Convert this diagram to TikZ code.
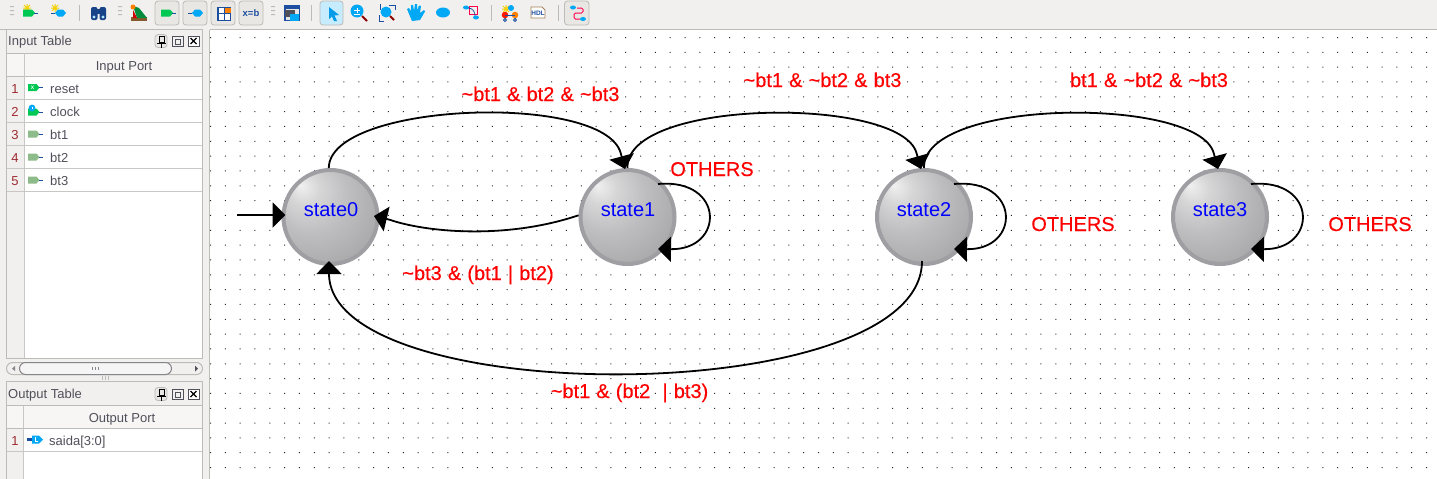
\documentclass[tikz,border=0pt]{standalone}
\usepackage{fontspec}
\setmainfont{Liberation Sans}
\newfontfamily\guardfont[FakeBold=0.35,WordSpace=1.1]{Liberation Sans}
\usetikzlibrary{arrows.meta,calc}
\definecolor{panelbg}{HTML}{F1F0EE}
\definecolor{frameln}{HTML}{BDBBB8}
\definecolor{rowln}{HTML}{C9C7C4}
\definecolor{uitext}{HTML}{50505A}
\definecolor{ringc}{HTML}{9E9EA3}
\definecolor{portg}{HTML}{00C853}
\definecolor{portb}{HTML}{00A8F5}
\definecolor{darkb}{HTML}{1D4FA0}
\definecolor{sung}{HTML}{F4D000}
\definecolor{dullg}{HTML}{8DBB8A}
\definecolor{btnbg}{HTML}{E9E7E4}
\definecolor{sa}{HTML}{F0F0F0}
\definecolor{sb}{HTML}{D6D6D7}
\definecolor{sc}{HTML}{BEBEC0}
\definecolor{sd}{HTML}{A9A9AC}
\definecolor{se}{HTML}{9E9EA3}
\pgfdeclareradialshading{statefill}{\pgfpoint{-16bp}{17bp}}{%
 color(0bp)=(sa); color(8bp)=(sb); color(20bp)=(sc); color(35bp)=(sd); color(46bp)=(se); color(60bp)=(se)}
\tikzset{
 x=1pt,y=-1pt,
 statenode/.style={circle,draw=ringc,line width=4pt,minimum size=94pt,inner sep=0pt,shading=statefill,shade},
 statetext/.style={anchor=base,text=blue,font=\fontsize{20}{24}\selectfont,inner sep=0pt},
 guard/.style={anchor=base,text=red,font=\guardfont\fontsize{20}{24}\selectfont,inner sep=0pt},
 wire/.style={draw=black,line width=1.8pt,-{Triangle[length=13pt,width=25pt]}},
 uilabel/.style={anchor=base west,text=uitext,font=\fontsize{13}{15}\selectfont,inner sep=0pt},
 uicenter/.style={anchor=base,text=uitext,font=\fontsize{13}{15}\selectfont,inner sep=0pt},
 btn/.style={draw=frameln,fill=btnbg,rounded corners=3pt,line width=.8pt},
}
\newcommand{\portglyph}[3]{% x, y, colour : pentagon with stub on the right
 \fill[#3] (#1,#2-3.5) -- (#1+8.5,#2-3.5) -- (#1+11.5,#2) -- (#1+8.5,#2+3.5) -- (#1,#2+3.5) -- cycle;
 \draw[darkb,line width=.8pt] (#1+11,#2) -- (#1+15,#2);}
\newcommand{\tbport}[3]{% toolbar port, stub right
 \fill[#3] (#1-6,#2-3.5) -- (#1+3,#2-3.5) -- (#1+6,#2) -- (#1+3,#2+3.5) -- (#1-6,#2+3.5) -- cycle;
 \draw[darkb,line width=.8pt] (#1+5,#2) -- (#1+9,#2);}
\newcommand{\tbportl}[3]{% toolbar port, stub left
 \fill[#3] (#1-3,#2) -- (#1,#2-3.5) -- (#1+5,#2-3.5) -- (#1+8,#2) -- (#1+5,#2+3.5) -- (#1,#2+3.5) -- cycle;
 \draw[darkb,line width=.8pt] (#1-7,#2) -- (#1-3,#2);}
\newcommand{\grip}[2]{\fill[frameln] (#1-2,#2-5) rectangle (#1+2,#2-4) (#1-2,#2-1) rectangle (#1+2,#2) (#1-2,#2+3) rectangle (#1+2,#2+4);}
\newcommand{\sun}[2]{\draw[sung,line width=1pt] (#1-4,#2) -- (#1+4,#2) (#1,#2-4) -- (#1,#2+4) (#1-3,#2-3) -- (#1+3,#2+3) (#1-3,#2+3) -- (#1+3,#2-3);}
\newcommand{\dockbtns}[1]{%
 \draw[btn] (155,#1-6.5) rectangle (167,#1+6.5);
 \draw[black,line width=.8pt] (159,#1-5) rectangle (164,#1+1) (157,#1+2) -- (166,#1+2) (161.5,#1+2) -- (161.5,#1+7);
 \draw[uitext,line width=.7pt] (172,#1-5) rectangle (183,#1+5) (175,#1-2) rectangle (180,#1+3);
 \draw[uitext,line width=.7pt,fill=white] (188,#1-5) rectangle (199,#1+5);
 \draw[black,line width=1.1pt] (190.5,#1-3) -- (196.5,#1+3) (190.5,#1+3) -- (196.5,#1-3);}
\begin{document}
\begin{tikzpicture}
\useasboundingbox (0,0) rectangle (1437,479);
% backgrounds
\fill[panelbg] (0,0) rectangle (1437,479);
\fill[white] (210,30) rectangle (1437,479);
\draw[frameln,line width=1pt] (0,29.5) -- (6,29.5) (209.5,29.5) -- (1437,29.5) (209.5,29.5) -- (209.5,479);
% grid dots
\fill[black!85] \foreach \i in {0,...,82}{\foreach \j in {0,...,29}{
  (210+14.83*\i,37+14.83*\j) rectangle (211+14.83*\i,38+14.83*\j)}};
% toolbar
\grip{12}{11}
\sun{27}{8}\tbport{29}{13}{portg}
\sun{55}{8}\tbportl{58}{13}{portb}
\draw[frameln,line width=.8pt] (79,5) -- (79,21);
% binoculars
\fill[darkb!85!black,rounded corners=2pt] (91,7) rectangle (97.5,20) (99.5,7) rectangle (106,20);
\fill[darkb!85!black] (96,9) rectangle (101,14);
\fill[white!70!portb] (94,17) circle (1.7) (103,17) circle (1.7);
\grip{120}{11}
% bird
\fill[brown!70!black] (131,17) rectangle (147,21);
\fill[portg!70!black] (133,6) -- (139,8) -- (147,18) -- (137,18) -- cycle;
\fill[orange] (133,7) circle (2.5);
\fill[red!80!black] (133,10) -- (137,18) -- (133,18) -- cycle;
% buttons
\draw[btn] (155,1) rectangle (179,25);
\tbport{167}{13}{portg}
\draw[btn] (183,1) rectangle (207,25);
\tbportl{195}{13}{portb}
\draw[btn] (211,1) rectangle (235,25);
\draw[darkb,line width=1.2pt,fill=white] (218,7.5) rectangle (230.5,20.5);
\fill[orange] (224.5,7.5) rectangle (230.5,13);
\draw[darkb,line width=1pt] (218,13) -- (230.5,13) (224.5,7.5) -- (224.5,20.5);
\draw[btn] (239,1) rectangle (263,25);
\node[font=\fontsize{9.5}{10}\selectfont\bfseries,text=darkb,inner sep=0pt] (xb) at (251,13.5) {x=b};
\grip{273}{11}
\fill[darkb] (284,5) rectangle (300,21);
\fill[white!80!gray] (285.5,9) rectangle (298.5,19.5);
\fill[uitext] (285,10) rectangle (295,17);
\fill[portb] (290,14) rectangle (299,21);
\draw[frameln,line width=.8pt] (311,5) -- (311,21);
\draw[draw=frameln,fill=portb!22,rounded corners=3pt,line width=.8pt] (320,1) rectangle (343,25);
\fill[portb!85!darkb] (329,7) -- (339,15) -- (334.5,15.5) -- (337,21) -- (334,21) -- (332,16.5) -- (329,19) -- cycle;
% zoom in
\fill[portb] (357,11) circle (6.5);
\draw[white,line width=1pt] (354,10) -- (360,10) (357,7.5) -- (357,12.5) (354,14) -- (360,14);
\draw[red!55!black,line width=2pt] (362,16) -- (367,21);
% zoom fit
\fill[portb] (386,12) circle (5.5);
\draw[red!55!black,line width=2pt] (390,16) -- (394,20);
\draw[darkb,line width=.9pt] (380,10) -- (380,4.5) -- (381,4.5) (389,5) -- (395,5) -- (395,10) (379,15) -- (379,21) -- (384,21);
% hand
\fill[portb] (409,14) -- (407,9) -- (409,8) -- (411,11) -- (411,5) -- (413,5) -- (414,11) -- (415,4) -- (417,4) -- (417,11) -- (419,5.5) -- (421,6) -- (420,13) -- (424,10) -- (425,11.5) -- (420,20) -- (412,21) -- cycle;
% ellipse
\fill[portb] (443,12.5) ellipse [x radius=7,y radius=5];
% transition
\fill[portb] (466,7.5) ellipse [x radius=3,y radius=2];
\fill[portb] (476,17.5) ellipse [x radius=3,y radius=2];
\draw[red!70!magenta,line width=1pt] (469,6) rectangle (477.5,14.5);
\draw[darkb,line width=.7pt] (468,8) .. controls (473,8) and (475,12) .. (475,16);
\draw[frameln,line width=.8pt] (491,5) -- (491,21);
% tree icon
\sun{506}{9}
\fill[red!80!orange] (505,15) circle (3.3);
\fill[orange] (515,15) circle (3.3);
\fill[portb] (511,8) circle (3);
\draw[darkb,line width=.8pt] (505,18) -- (505,19) (515,18) -- (515,19) (505,15) -- (515,15);
\draw[darkb,line width=.8pt] (505,20) circle (1.5) (515,20) circle (1.5);
% HDL
\draw[brown!60!gray,line width=.9pt,fill=white] (531,7) -- (542,7) -- (545,10) -- (545,18) -- (531,18) -- cycle;
\node[font=\fontsize{6.5}{7}\selectfont\bfseries,text=darkb,inner sep=0pt] (hdl) at (538,13) {HDL};
\draw[frameln,line width=.8pt] (558,5) -- (558,21);
\draw[btn] (564.5,1) rectangle (589,25);
\draw[red!70!magenta,line width=1pt,rounded corners=1.5pt] (577,8) -- (583,8) -- (583,13) -- (574,13) -- (574,19) -- (580,19);
\fill[portb] (573,7.5) ellipse [x radius=3,y radius=2];
\fill[portb] (583,19) ellipse [x radius=3,y radius=2];
% input table dock
\draw[frameln,line width=1pt,fill=panelbg] (6.5,29.5) rectangle (202.5,358.5);
\node[uilabel] (inTitle) at (8,45) {Input Table};
\dockbtns{41}
\fill[white] (24,53) rectangle (202,358);
\fill[panelbg!60!white] (7,53) rectangle (202,76);
\draw[frameln,line width=1pt] (7,53) -- (202,53) (7,76) -- (202,76);
\draw[rowln,line width=.8pt] (24,53) -- (24,358);
\draw[rowln,line width=1pt] (7,99.5) -- (202,99.5) (7,122.5) -- (202,122.5) (7,145.5) -- (202,145.5) (7,168.5) -- (202,168.5) (7,191.5) -- (202,191.5);
\node[uicenter] (inHead) at (124,70) {Input Port};
\foreach \r/\y/\t in {1/93/reset,2/116/clock,3/139/bt1,4/162/bt2,5/185/bt3}{
 \node[uicenter,text=red!45!uitext] (inN\r) at (15,\y) {\r};
 \node[uilabel] (inT\r) at (50,\y) {\t};
}
\portglyph{28}{87.5}{portg}
\node[text=white,font=\fontsize{5}{5}\selectfont\bfseries,inner sep=0pt] (xglyph) at (32.5,87.5) {X};
\portglyph{28}{112}{portg}
\fill[portb] (32,108) circle (3.4);
\fill[white] (31.7,106.5) rectangle (32.5,108.5);
\portglyph{28}{134}{dullg}\portglyph{28}{157}{dullg}\portglyph{28}{180}{dullg}
% scroll bar
\draw[frameln,line width=1pt,fill=panelbg,rounded corners=6pt] (6.5,362.5) rectangle (202.5,374.5);
\draw[uitext!70,line width=1pt,fill=white!96!black,rounded corners=6pt] (19.5,362.5) rectangle (171.5,374.5);
\fill[uitext!70] (12,368.5) -- (15,366) -- (15,371) -- cycle;
\fill[uitext] (198,368.5) -- (195,365.5) -- (195,371.5) -- cycle;
\draw[uitext!70,line width=.6pt] (92,366.5) -- (92,370) (95,366.5) -- (95,370) (98,366.5) -- (98,370);
\draw[frameln,line width=.6pt] (102,376) -- (102,380) (105,376) -- (105,380) (108,376) -- (108,380);
% output table dock
\draw[frameln,line width=1pt,fill=panelbg] (6.5,381.5) rectangle (202.5,485);
\node[uilabel] (outTitle) at (8,398) {Output Table};
\dockbtns{394}
\fill[white] (24,405) rectangle (202,479);
\fill[panelbg!60!white] (7,405.5) rectangle (202,428.5);
\draw[frameln,line width=1pt] (7,405.5) -- (202,405.5) (7,428.5) -- (202,428.5);
\draw[rowln,line width=.8pt] (23.5,405.5) -- (23.5,479);
\draw[rowln,line width=1pt] (7,451.5) -- (202,451.5);
\node[uicenter] (outHead) at (122,422) {Output Port};
\node[uicenter,text=red!45!uitext] (outN1) at (15,445) {1};
\node[uilabel] (outT1) at (49,445) {saida[3:0]};
\fill[darkb] (27,438) rectangle (32,441);
\fill[portb] (32,435.5) -- (39,435.5) -- (43,439.5) -- (39,443.5) -- (32,443.5) -- cycle;
\draw[white,line width=.9pt] (35,437) -- (35,441.5) -- (38,441.5);
% states
\node[statenode] (s0) at (330.5,217) {};
\node[statenode] (s1) at (627.5,217) {};
\node[statenode] (s2) at (924,217) {};
\node[statenode] (s3) at (1220,217) {};
\node[statetext] (t0) at (331,216) {state0};
\node[statetext] (t1) at (628,216) {state1};
\node[statetext] (t2) at (924,216) {state2};
\node[statetext] (t3) at (1220,216) {state3};
% transitions
\coordinate (entry) at (237,215);
\draw[wire,line width=2.2pt] (entry) -- ([shift={(-45,-2)}]s0.center);
\draw[wire] (s0.92) .. controls (329,102) and (603.6,92) .. (620.7,153) -- ([shift={(-2.5,-48)}]s1.center);
\draw[wire] (s1.90) .. controls (625,98) and (900.5,96) .. (916.5,153) -- ([shift={(-3,-48)}]s2.center);
\draw[wire] (s2.90) .. controls (922,98) and (1197.7,96) .. (1213.7,153) -- ([shift={(-2,-48)}]s3.center);
\draw[wire] (s1.178) .. controls (505,240) and (425,232) .. (389.5,219.7) -- ([shift={(43.5,-1)}]s0.center);
\draw[wire] ([shift={(-2,44)}]s2.center) .. controls (922,410) and (329,410) .. ([shift={(-1.5,44)}]s0.center);
\draw[wire] ([shift={(30.5,-33)}]s1.center) .. controls (725,178) and (725,250) .. ([shift={(30.5,32)}]s1.center);
\draw[wire] ([shift={(30,-33)}]s2.center) .. controls (1021,178) and (1021,250) .. ([shift={(30,32)}]s2.center);
\draw[wire] ([shift={(31,-33)}]s3.center) .. controls (1318,178) and (1318,250) .. ([shift={(31,32)}]s3.center);
% guards
\node[guard] (g01) at (540.5,101) {\textasciitilde bt1 \& bt2 \& \textasciitilde bt3};
\node[guard] (g12) at (822.5,87) {\textasciitilde bt1 \& \textasciitilde bt2 \& bt3};
\node[guard] (g23) at (1149,87) {bt1 \& \textasciitilde bt2 \& \textasciitilde bt3};
\node[guard] (g10) at (478,280) {\textasciitilde bt3 \& (bt1 | bt2)};
\node[guard] (g20) at (629.5,398) {\textasciitilde bt1 \& (bt2 ~| bt3)};
\node[guard] (o1) at (712,176) {OTHERS};
\node[guard] (o2) at (1073,231) {OTHERS};
\node[guard] (o3) at (1370,231) {OTHERS};
\end{tikzpicture}
\end{document}
